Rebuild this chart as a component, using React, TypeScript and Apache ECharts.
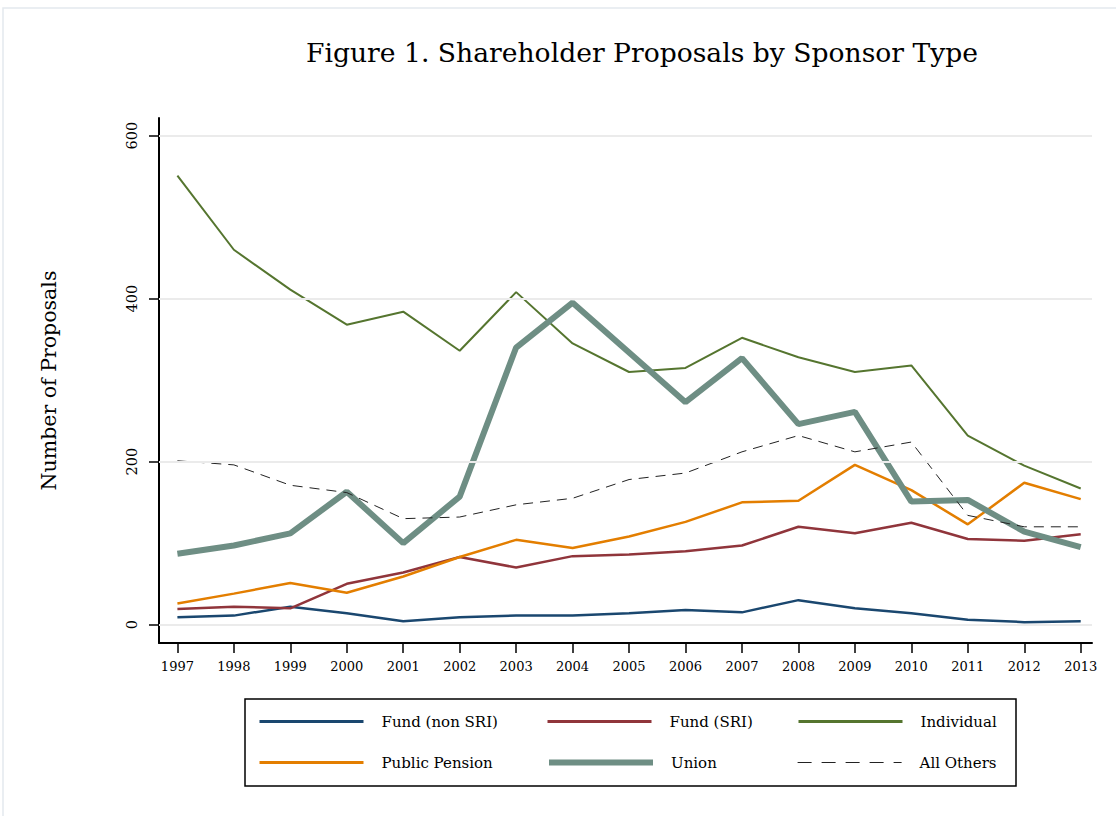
import React, { useEffect, useRef } from "react";
import * as echarts from "echarts";

const years = [1997, 1998, 1999, 2000, 2001, 2002, 2003, 2004, 2005, 2006, 2007, 2008, 2009, 2010, 2011, 2012, 2013];
const yTicks = [0, 200, 400, 600];
const fundNonSRI = [9, 11, 22, 14, 4, 9, 11, 11, 14, 18, 15, 30, 20, 14, 6, 3, 4];
const fundSRI = [19, 22, 20, 50, 64, 83, 70, 84, 86, 90, 97, 120, 112, 125, 105, 103, 111];
const individual = [551, 460, 411, 368, 384, 336, 408, 345, 310, 315, 352, 328, 310, 318, 232, 195, 167];
const publicPension = [26, 38, 51, 39, 59, 83, 104, 94, 108, 126, 150, 152, 196, 165, 123, 174, 154];
const union = [87, 97, 112, 163, 100, 157, 340, 395, 334, 273, 327, 246, 261, 151, 153, 114, 95];
const allOthers = [201, 196, 171, 162, 130, 132, 147, 155, 178, 186, 212, 232, 212, 224, 134, 120, 120];

const seriesNames = ["Fund (non SRI)", "Fund (SRI)", "Individual", "Public Pension", "Union", "All Others"];
const seriesValues = [fundNonSRI, fundSRI, individual, publicPension, union, allOthers];
const seriesColors = ["#1a476f", "#90353b", "#55752f", "#e37e00", "#6e8e84", "#222222"];
const seriesWidths = [2.5, 2.5, 2, 2.5, 6, 1];
const legendWidths = [3, 3, 3, 3, 6, 1.2];
const seriesTypes: any[] = ["solid", "solid", "solid", "solid", "solid", [10, 7]];
const legendTypes: any[] = ["solid", "solid", "solid", "solid", "solid", [14, 10]];

const legendPos = [
  [258, 714],
  [546, 714],
  [797, 714],
  [258, 755],
  [546, 755],
  [797, 755],
];

const FONT = "DejaVu Serif";

export default function App() {
  const ref = useRef<HTMLDivElement>(null);
  useEffect(() => {
    if (!ref.current) return;
    const chart = echarts.init(ref.current, null, { renderer: "svg" });
    const series: any[] = seriesNames.map((name, i) => ({
      name,
      type: "line",
      symbol: "none",
      data: years.map((y, j) => [y, seriesValues[i][j]]),
      lineStyle: { color: seriesColors[i], width: seriesWidths[i], type: seriesTypes[i] },
      itemStyle: { color: seriesColors[i] },
      z: 3,
    }));
    series.unshift({
      type: "line",
      data: [],
      z: 1,
      markLine: {
        silent: true,
        symbol: "none",
        label: { show: false },
        lineStyle: { color: "#ebebeb", width: 2, type: "solid" },
        data: yTicks.map((v) => ({ yAxis: v })),
      },
    });
    chart.setOption({
      animation: false,
      backgroundColor: "#ffffff",
      title: {
        text: "Figure 1. Shareholder Proposals by Sponsor Type",
        left: 301,
        top: 34,
        textStyle: { fontFamily: FONT, fontSize: 26.6, fontWeight: "normal", color: "#000" },
      },
      grid: { left: 159, right: 24, top: 118, bottom: 173, containLabel: false },
      xAxis: {
        type: "value",
        min: 1996.674,
        max: 2013.2,
        axisLine: { show: true, onZero: false, lineStyle: { color: "#000", width: 2 } },
        axisTick: { show: true, length: 10, lineStyle: { color: "#000", width: 1.5 }, customValues: years },
        axisLabel: {
          customValues: years,
          formatter: (v: number) => String(v),
          fontFamily: FONT,
          fontSize: 13,
          color: "#000",
          margin: 17,
        },
        splitLine: { show: false },
      },
      yAxis: {
        type: "value",
        min: -22.6,
        max: 621.7,
        name: "Number of Proposals",
        nameLocation: "middle",
        nameGap: 100,
        nameTextStyle: { fontFamily: FONT, fontSize: 20.5, color: "#000" },
        axisLine: { show: true, onZero: false, lineStyle: { color: "#000", width: 2 } },
        axisTick: { show: true, length: 10, lineStyle: { color: "#000", width: 1.5 }, customValues: yTicks },
        axisLabel: {
          customValues: yTicks,
          rotate: 90,
          formatter: (v: number) => String(v),
          fontFamily: FONT,
          fontSize: 14.5,
          color: "#000",
          margin: 20,
        },
        splitLine: { show: false },
      },
      legend: seriesNames.map((name, i) => ({
        data: [name],
        left: legendPos[i][0],
        top: legendPos[i][1],
        padding: 0,
        itemWidth: 104,
        itemHeight: 16,
        selectedMode: false,
        itemStyle: { opacity: 0 },
        lineStyle: { color: seriesColors[i], width: legendWidths[i], type: legendTypes[i], opacity: 1 },
        textStyle: { fontFamily: FONT, fontSize: 15, color: "#000", padding: [0, 0, 0, 13] },
      })),
      graphic: [
        {
          type: "rect",
          shape: { x: 245, y: 699, width: 771, height: 87 },
          style: { fill: "none", stroke: "#000", lineWidth: 1.5 },
        },
        {
          type: "rect",
          shape: { x: 3, y: 8, width: 1130, height: 830 },
          style: { fill: "none", stroke: "#e4e9ee", lineWidth: 1.5 },
        },
      ],
      series,
    });
    return () => chart.dispose();
  }, []);
  return <div ref={ref} style={{ position: "fixed", left: 0, top: 0, width: 1116, height: 816 }} />;
}
